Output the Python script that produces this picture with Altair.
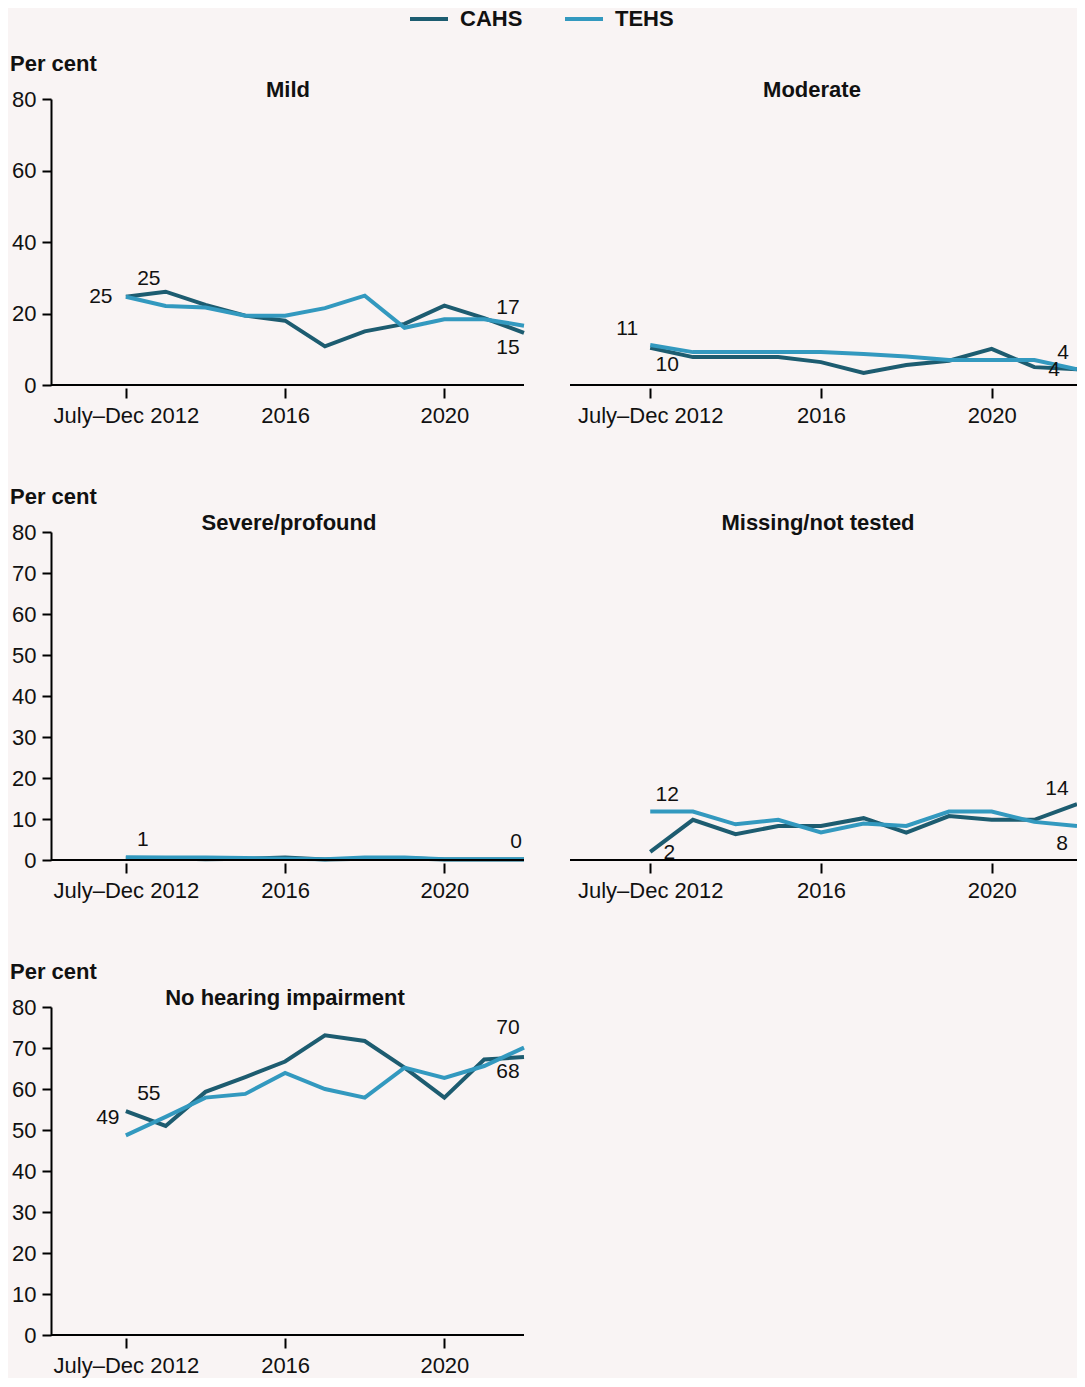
import altair as alt
import pandas as pd

# ---------------- data ----------------
YEARS = list(range(2012, 2023))
SERIES = ["CAHS", "TEHS"]
PANELS = ["Mild", "Moderate", "Severe/profound", "Missing/not tested", "No hearing impairment"]

MILD_CAHS = [24.7, 26.1, 22.4, 19.4, 18.0, 10.8, 15.0, 17.1, 22.2, 18.7, 14.6]
MILD_TEHS = [24.7, 22.1, 21.7, 19.4, 19.4, 21.5, 25.0, 16.0, 18.4, 18.4, 16.6]
MOD_CAHS = [10.4, 7.8, 7.8, 7.8, 6.4, 3.4, 5.6, 6.8, 10.1, 5.0, 4.4]
MOD_TEHS = [11.2, 9.2, 9.2, 9.2, 9.2, 8.7, 8.0, 7.0, 7.0, 7.0, 4.4]
SEV_CAHS = [0.5, 0.4, 0.2, 0.3, 0.6, 0.1, 0.3, 0.4, 0.1, 0.1, 0.1]
SEV_TEHS = [0.7, 0.6, 0.6, 0.5, 0.3, 0.2, 0.6, 0.6, 0.2, 0.2, 0.2]
MISS_CAHS = [2.0, 9.8, 6.3, 8.3, 8.3, 10.2, 6.7, 10.7, 9.8, 9.8, 13.6]
MISS_TEHS = [11.8, 11.8, 8.7, 9.8, 6.7, 8.9, 8.3, 11.8, 11.8, 9.3, 8.3]
NHI_CAHS = [54.6, 51.0, 59.3, 62.9, 66.7, 73.1, 71.7, 65.2, 57.9, 67.2, 67.8]
NHI_TEHS = [48.7, 53.2, 57.9, 58.8, 63.9, 60.0, 57.9, 65.2, 62.7, 65.6, 70.1]

VALUES = {
    "Mild": (MILD_CAHS, MILD_TEHS),
    "Moderate": (MOD_CAHS, MOD_TEHS),
    "Severe/profound": (SEV_CAHS, SEV_TEHS),
    "Missing/not tested": (MISS_CAHS, MISS_TEHS),
    "No hearing impairment": (NHI_CAHS, NHI_TEHS),
}

# value labels: panel, series, year, text
LABELS = [
    ("Mild", "CAHS", 2012, "25"), ("Mild", "TEHS", 2012, "25"),
    ("Mild", "TEHS", 2022, "17"), ("Mild", "CAHS", 2022, "15"),
    ("Moderate", "TEHS", 2012, "11"), ("Moderate", "CAHS", 2012, "10"),
    ("Moderate", "TEHS", 2022, "4"), ("Moderate", "CAHS", 2022, "4"),
    ("Severe/profound", "TEHS", 2012, "1"), ("Severe/profound", "TEHS", 2022, "0"),
    ("Missing/not tested", "TEHS", 2012, "12"), ("Missing/not tested", "CAHS", 2012, "2"),
    ("Missing/not tested", "CAHS", 2022, "14"), ("Missing/not tested", "TEHS", 2022, "8"),
    ("No hearing impairment", "TEHS", 2012, "49"), ("No hearing impairment", "CAHS", 2012, "55"),
    ("No hearing impairment", "TEHS", 2022, "70"), ("No hearing impairment", "CAHS", 2022, "68"),
]

# ---------------- style ----------------
LABEL_OFFSETS = [
    (23, -18), (-25, 0), (-16, -18), (-16, 15),
    (-23, -16), (17, 17), (-14, -16), (-23, 1),
    (17, -17), (-8, -17),
    (17, -17), (19, 1), (-20, -15), (-15, 18),
    (-18, -17), (23, -17), (-16, -20), (-16, 15),
]
COLORS = ["#1d5c70", "#3399bf"]
BG = "#f9f4f4"
FONT = "Liberation Sans"
TXT = "#111111"
LEFT_W, RIGHT_W = 473, 507
ROW_H = [286, 328, 328]
TITLE_X = {"Mild": 237, "Moderate": 242, "Severe/profound": 238,
           "Missing/not tested": 248, "No hearing impairment": 234}

rows = []
for p in PANELS:
    cahs, tehs = VALUES[p]
    for s, vals in zip(SERIES, (cahs, tehs)):
        for y, v in zip(YEARS, vals):
            rows.append({"panel": p, "series": s, "year": y, "value": v})
df = pd.DataFrame(rows)

x_scale = alt.Scale(domain=[2010.12, 2022], nice=False, zero=False)
y_scale = alt.Scale(domain=[0, 80], nice=False)
color_scale = alt.Scale(domain=SERIES, range=COLORS)

x_axis = alt.Axis(values=[2012, 2016, 2020], format="d",
                  labelExpr="datum.value == 2012 ? 'July\u2013Dec 2012' : datum.label",
                  domain=False, offset=3, tickSize=10, tickWidth=2, tickColor="black",
                  labelFontSize=22, labelPadding=7, labelColor=TXT, grid=False, title=None,
                  labelFont=FONT, labelOverlap=False)
y_axis = alt.Axis(values=list(range(0, 81, 10)), domainColor="black", domainWidth=2,
                  tickSize=9, tickWidth=2, tickColor="black", labelFontSize=22,
                  labelPadding=6, labelColor=TXT, grid=False, title=None, labelFont=FONT,
                  labelOverlap=False)

legend = alt.Legend(orient="none", legendX=357, legendY=-101, direction="horizontal",
                    title=None, symbolType="stroke", symbolStrokeWidth=4, symbolSize=1444,
                    labelFontSize=22, labelFontWeight="bold", labelColor=TXT, labelFont=FONT,
                    columnPadding=34, labelOffset=10)


def panel(p, w, h, show_y):
    base = alt.Chart(df[df.panel == p])
    lines = base.mark_line(strokeWidth=4).encode(
        x=alt.X("year:Q", scale=x_scale, axis=x_axis),
        y=alt.Y("value:Q", scale=y_scale, axis=y_axis if show_y else None),
        color=alt.Color("series:N", scale=color_scale, legend=legend),
        order=alt.Order("year:Q"),
    )
    baseline = alt.Chart(pd.DataFrame({"a": [0]})).mark_rule(color="black", strokeWidth=2).encode(
        x=alt.value(0), x2=alt.value(w), y=alt.value(h)
    )
    title = alt.Chart(pd.DataFrame({"t": [p]})).mark_text(
        fontWeight="bold", fontSize=22, align="center", baseline="middle", color=TXT, font=FONT
    ).encode(x=alt.value(TITLE_X[p]), y=alt.value(-9), text="t:N")
    layers = [lines, baseline, title]
    if show_y:
        pc = alt.Chart(pd.DataFrame({"t": ["Per cent"]})).mark_text(
            fontWeight="bold", fontSize=22, align="left", baseline="middle", color=TXT, font=FONT
        ).encode(x=alt.value(-41), y=alt.value(-35), text="t:N")
        layers.append(pc)
    for (lp, ls, ly, lt), (dx, dy) in zip(LABELS, LABEL_OFFSETS):
        if lp != p:
            continue
        v = df[(df.panel == lp) & (df.series == ls) & (df.year == ly)].value.iloc[0]
        ld = pd.DataFrame({"year": [ly], "value": [v], "t": [lt]})
        layers.append(
            alt.Chart(ld).mark_text(fontSize=21, dx=dx, dy=dy, align="center",
                                    baseline="middle", color=TXT, font=FONT).encode(
                x=alt.X("year:Q", scale=x_scale),
                y=alt.Y("value:Q", scale=y_scale),
                text="t:N",
            )
        )
    return alt.layer(*layers).properties(width=w, height=h)


charts = [
    panel("Mild", LEFT_W, ROW_H[0], True),
    panel("Moderate", RIGHT_W, ROW_H[0], False),
    panel("Severe/profound", LEFT_W, ROW_H[1], True),
    panel("Missing/not tested", RIGHT_W, ROW_H[1], False),
    panel("No hearing impairment", LEFT_W, ROW_H[2], True),
]

chart = alt.concat(*charts, columns=2, spacing={"row": 147, "column": 46},
                   bounds="flush", align="each").properties(
    background=BG,
    padding={"left": 2, "top": -10, "right": -8, "bottom": 2},
).configure(font=FONT).configure_view(strokeWidth=0, stroke="transparent")

chart.save("out.html", embed_options={"renderer": "svg", "actions": False})
